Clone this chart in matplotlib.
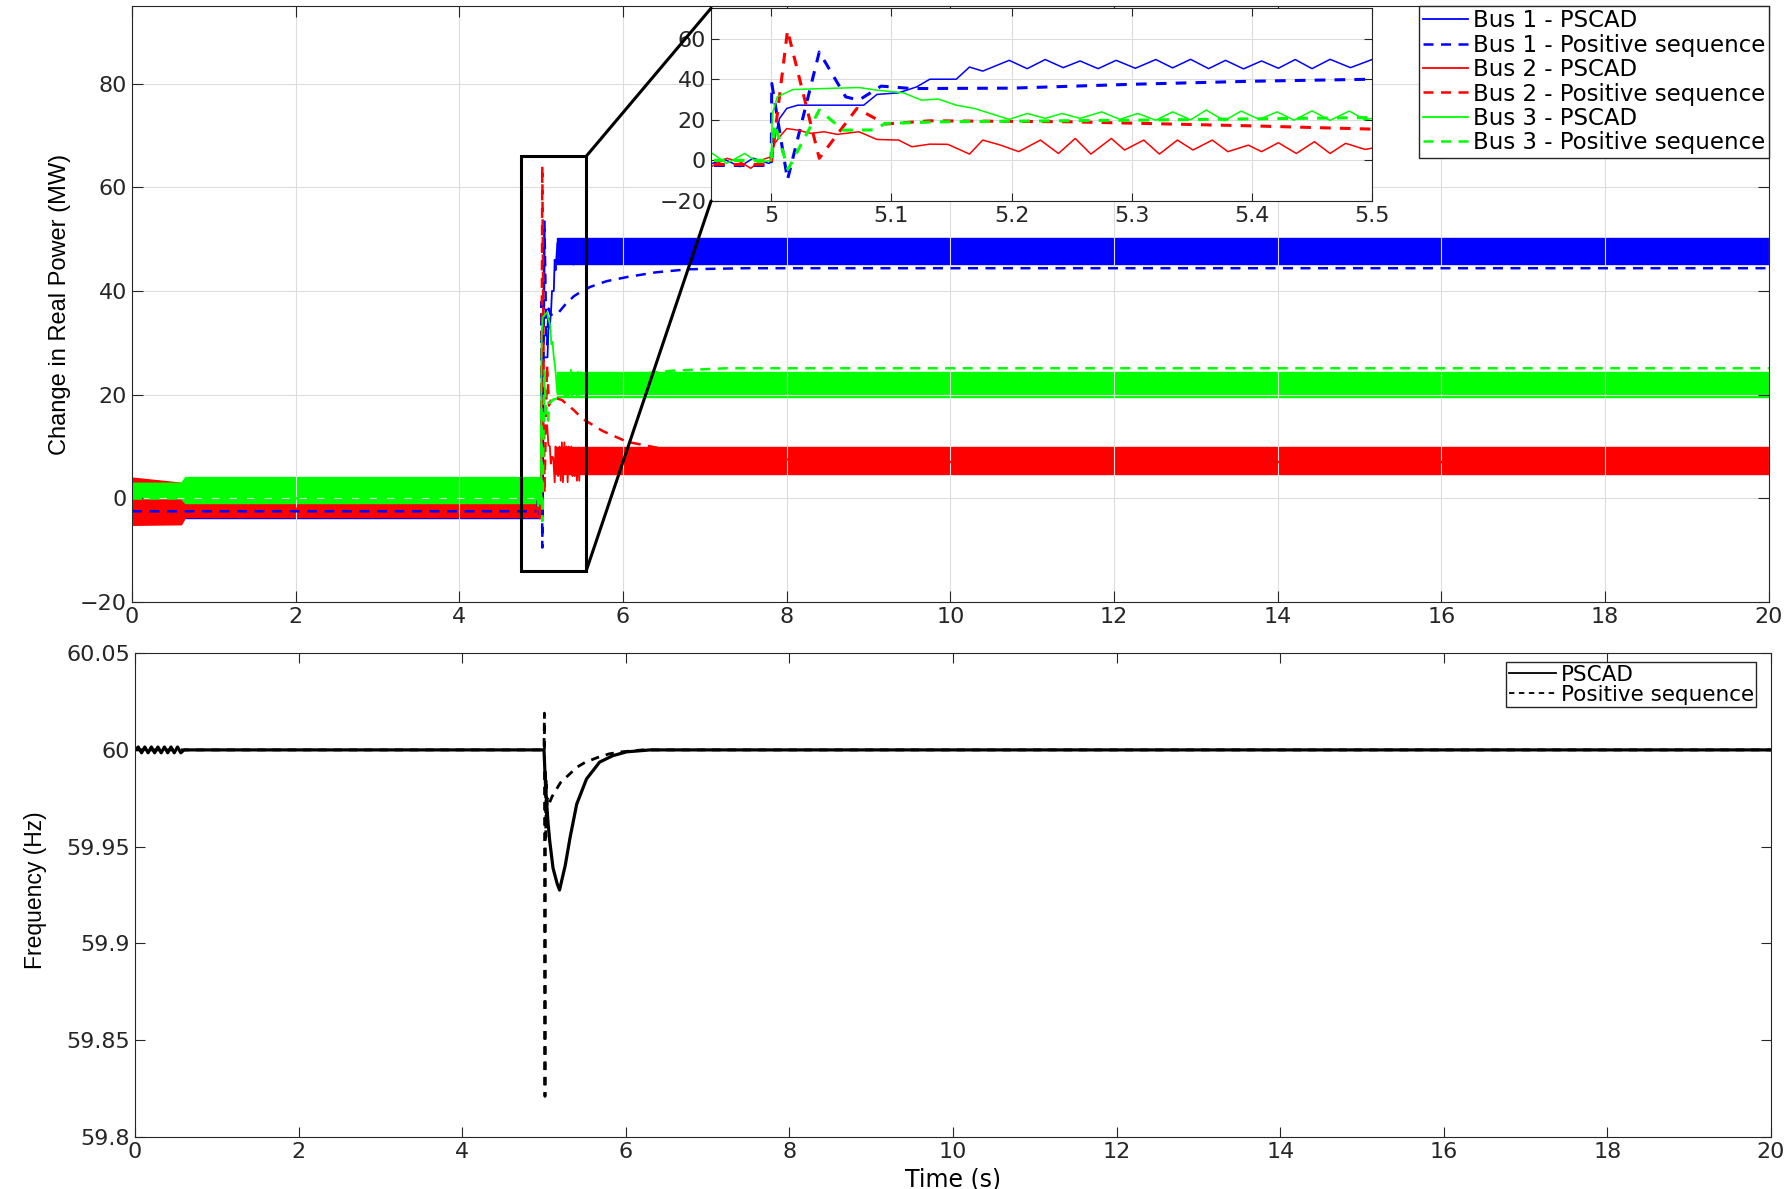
import matplotlib.pyplot as plt
import numpy as np
from matplotlib.patches import Rectangle, ConnectionPatch
from matplotlib.ticker import FormatStrFormatter, MultipleLocator

plt.rcParams['font.family'] = ['DejaVu Sans']
plt.rcParams['axes.edgecolor'] = '#262626'
plt.rcParams['xtick.color'] = '#262626'
plt.rcParams['ytick.color'] = '#262626'

# PSCAD real power change around the disturbance (s, MW)
t_bus1 = [4.951, 4.961, 4.974, 4.985, 4.998, 5.000, 5.003, 5.007, 5.013, 5.022,
          5.044, 5.077, 5.088, 5.106, 5.121, 5.132, 5.154, 5.165, 5.176,
          5.198, 5.213, 5.228, 5.243, 5.257, 5.272, 5.287, 5.303, 5.320, 5.334,
          5.349, 5.364, 5.378, 5.393, 5.408, 5.422, 5.436, 5.450, 5.465, 5.482, 5.500]
p_bus1 = [-1.5, 0.5, -3.1, 1.1, -1.5, -0.8, 11.6, 20.7, 25.6, 27.2,
          27.2, 27.2, 32.5, 33.3, 36.2, 40.0, 40.0, 46.0, 44.0,
          49.3, 45.2, 49.7, 45.7, 49.0, 45.2, 49.3, 45.4, 49.7, 45.6,
          49.8, 45.2, 49.3, 45.1, 49.0, 45.4, 49.7, 45.2, 49.8, 45.7, 49.7]

t_bus2 = [4.951, 4.963, 4.974, 4.983, 4.992, 5.000, 5.003, 5.007, 5.013, 5.022,
          5.033, 5.044, 5.055, 5.073, 5.088, 5.106, 5.117, 5.132, 5.147, 5.165,
          5.176, 5.191, 5.206, 5.224, 5.239, 5.253, 5.266, 5.283, 5.294, 5.310,
          5.323, 5.338, 5.351, 5.367, 5.380, 5.397, 5.408, 5.422, 5.437, 5.452,
          5.465, 5.478, 5.494, 5.500]
p_bus2 = [-2.8, 1.0, -0.7, -3.9, 0.2, 1.8, 8.4, 11.6, 15.7, 14.9,
          13.3, 14.1, 12.8, 14.1, 10.3, 10.0, 6.7, 8.0, 7.9, 3.1,
          10.0, 7.5, 4.3, 10.0, 3.4, 10.8, 3.1, 10.8, 5.1, 10.0,
          3.1, 10.0, 5.1, 10.0, 4.3, 7.5, 4.3, 8.7, 3.4, 9.2,
          3.4, 8.4, 5.4, 6.0]

t_bus3 = [4.951, 4.963, 4.978, 4.989, 5.000, 5.001, 5.005, 5.018, 5.044, 5.073,
          5.088, 5.110, 5.125, 5.139, 5.154, 5.169, 5.198, 5.213, 5.228, 5.242,
          5.257, 5.275, 5.290, 5.305, 5.320, 5.334, 5.349, 5.362, 5.377, 5.391,
          5.406, 5.421, 5.435, 5.450, 5.465, 5.481, 5.494, 5.500]
p_bus3 = [3.4, -1.5, 3.4, -1.1, 0.0, 23.0, 31.3, 34.9, 35.4, 35.9,
          34.6, 33.3, 29.7, 30.2, 27.2, 25.6, 20.2, 23.1, 20.7, 23.1,
          20.7, 23.9, 20.2, 23.1, 19.8, 23.9, 20.0, 24.8, 19.5, 24.3,
          20.2, 23.9, 19.8, 24.4, 19.7, 24.3, 20.0, 20.7]

# PSCAD ripple bands (min / max of the fast oscillation)
t_pre = [0.0, 0.6, 0.65, 5.0]
lo_pre1 = [-3.8, -3.8, -3.8, -3.8]
hi_pre1 = [-1.0, -1.0, -1.5, -1.5]
lo_pre2 = [-5.1, -5.0, -3.6, -3.6]
hi_pre2 = [4.0, 3.0, -0.3, -0.3]
lo_pre3 = [0.0, 0.0, -0.9, -0.9]
hi_pre3 = [3.0, 3.0, 4.1, 4.1]

t_post1 = [5.19, 20.0]
lo_post1 = [45.3, 45.3]
hi_post1 = [50.3, 50.3]
t_post2 = [5.17, 20.0]
lo_post2 = [4.6, 4.6]
hi_post2 = [9.9, 9.9]
t_post3 = [5.19, 20.0]
lo_post3 = [19.6, 19.6]
hi_post3 = [24.4, 24.4]

# positive sequence model
t_ps1 = [0, 5.0, 5.0005, 5.0136, 5.040, 5.062, 5.073, 5.0915, 5.117, 5.2,
         5.3, 5.4, 5.5, 5.6, 5.8, 6.05, 6.4, 6.8, 7.5, 20]
p_ps1 = [-2.5, -2.5, 37.9, -9.5, 53.4, 31.3, 29.7, 36.6, 35.4, 35.6,
         37.5, 39.0, 40.0, 40.8, 41.9, 42.7, 43.6, 44.2, 44.4, 44.4]
t_ps2 = [0, 5.0, 5.0136, 5.040, 5.0713, 5.095, 5.132, 5.25, 5.4, 5.5,
         5.75, 6.05, 6.57, 7.2, 8.0, 9.5, 20]
p_ps2 = [-2.0, -2.0, 64.1, 1.0, 25.6, 17.9, 19.5, 19.0, 17.0, 15.4,
         13.0, 10.9, 9.3, 8.2, 7.5, 7.0, 7.0]
t_ps3 = [0, 5.0, 5.003, 5.014, 5.040, 5.060, 5.085, 5.095, 5.14, 5.3,
         5.5, 5.8, 6.1, 6.57, 7.27, 20]
p_ps3 = [0.0, 0.0, 18.0, -4.4, 24.8, 14.9, 15.0, 18.2, 19.0, 19.8,
         21.1, 22.8, 23.8, 24.6, 25.1, 25.1]

# system frequency (s, Hz)
t_f_pscad = [0, 0.04, 0.08, 0.12, 0.16, 0.20, 0.24, 0.28, 0.32, 0.36, 0.40,
             0.44, 0.48, 0.52, 0.56, 0.60, 5.0, 5.02, 5.05, 5.07, 5.11, 5.16,
             5.19, 5.26, 5.32, 5.40, 5.52, 5.68, 5.84, 6.01, 6.3, 20]
f_pscad = [60.0, 60.0015, 59.9985, 60.0015, 59.9985, 60.0015, 59.9985, 60.0015,
           59.9985, 60.0015, 59.9985, 60.0015, 59.9985, 60.0015, 59.9985, 60.0,
           60.0, 59.98, 59.962, 59.953, 59.939, 59.931, 59.9276, 59.9404, 59.955,
           59.972, 59.985, 59.9937, 59.997, 59.999, 60.0, 60.0]
t_f_ps = [0, 5.0, 5.005, 5.012, 5.018, 5.022, 5.027, 5.032, 5.04, 5.06, 5.10,
          5.2, 5.3, 5.4, 5.5, 5.65, 5.8, 5.95, 6.2, 20]
f_ps = [60.0, 60.0, 60.019, 59.821, 59.99, 59.955, 59.985, 59.962, 59.975,
        59.972, 59.976, 59.983, 59.987, 59.991, 59.9935, 59.996, 59.998,
        59.999, 60.0, 60.0]

labels = ['Bus 1 - PSCAD', 'Bus 1 - Positive sequence',
          'Bus 2 - PSCAD', 'Bus 2 - Positive sequence',
          'Bus 3 - PSCAD', 'Bus 3 - Positive sequence']
colors = ['#0000ff', '#ff0000', '#00ff00']
label_font = ['Liberation Sans', 'DejaVu Sans']

fig = plt.figure(figsize=(17.88, 11.89), dpi=100)
ax = fig.add_axes([0.0738, 0.4937, 0.9155, 0.5013])
ax2 = fig.add_axes([0.0755, 0.0437, 0.915, 0.407])
axin = fig.add_axes([0.3977, 0.8310, 0.3697, 0.1621])

pscad = [(t_bus1, p_bus1), (t_bus2, p_bus2), (t_bus3, p_bus3)]
pre = [(lo_pre1, hi_pre1), (lo_pre2, hi_pre2), (lo_pre3, hi_pre3)]
post = [(t_post1, lo_post1, hi_post1), (t_post2, lo_post2, hi_post2),
        (t_post3, lo_post3, hi_post3)]
ps = [(t_ps1, p_ps1), (t_ps2, p_ps2), (t_ps3, p_ps3)]

handles = []
for i in range(3):
    c = colors[i]
    ax.fill_between(t_pre, pre[i][0], pre[i][1], color=c, lw=1)
    h1, = ax.plot(pscad[i][0], pscad[i][1], color=c, lw=1.3)
    tp, lo, hi = post[i]
    ax.fill_between(tp, lo, hi, color=c, lw=1)
    h2, = ax.plot(ps[i][0], ps[i][1], color=c, lw=1.8, ls=(0, (4, 3)))
    handles += [h1, h2]

    axin.plot(pscad[i][0], pscad[i][1], color=c, lw=1.1)
    axin.plot(ps[i][0], ps[i][1], color=c, lw=2.2, ls=(0, (3.5, 3)))

ax.set_xlim(0, 20)
ax.set_ylim(-20, 95)
ax.xaxis.set_major_locator(MultipleLocator(2))
ax.set_yticks([-20, 0, 20, 40, 60, 80])
ax.grid(True, color='#dcdcdc', lw=0.8)
ax.tick_params(direction='in', top=True, right=True, length=8, labelsize=16)
ax.set_ylabel('Change in Real Power (MW)', fontsize=17, family=label_font)
ax.yaxis.set_label_coords(-0.037, 0.5)

leg = ax.legend(handles, labels, loc='upper right', bbox_to_anchor=(1, 1),
                borderaxespad=0, fontsize=16.5, labelspacing=0.06,
                handlelength=2.0, handletextpad=0.2, borderpad=0.15,
                fancybox=False, framealpha=1, edgecolor='#262626')
leg.get_frame().set_linewidth(1.0)

# zoom box on the disturbance
ax.add_patch(Rectangle((4.75, -14), 0.8, 80, fill=False, ec='black', lw=2.2,
                       zorder=6))

axin.set_xlim(4.95, 5.5)
axin.set_ylim(-20, 75)
axin.set_xticks([5.0, 5.1, 5.2, 5.3, 5.4, 5.5])
axin.set_yticks([-20, 0, 20, 40, 60])
axin.xaxis.set_major_formatter(FormatStrFormatter('%g'))
axin.grid(True, color='#dcdcdc', lw=0.8)
axin.tick_params(direction='in', top=True, right=True, length=6, labelsize=16)
axin.set_facecolor('white')

for xy_box, xy_in in [((5.55, 66), (0, 1)), ((5.55, -14), (0, 0))]:
    con = ConnectionPatch(xyA=xy_box, coordsA=ax.transData,
                          xyB=xy_in, coordsB=axin.transAxes,
                          color='black', lw=2.2)
    fig.add_artist(con)

ax2.plot(t_f_pscad, f_pscad, color='black', lw=2.3, label='PSCAD')
ax2.plot(t_f_ps, f_ps, color='black', lw=2.0, ls=(0, (3, 2.5)),
         label='Positive sequence')
ax2.set_xlim(0, 20)
ax2.set_ylim(59.8, 60.05)
ax2.xaxis.set_major_locator(MultipleLocator(2))
ax2.set_yticks([59.8, 59.85, 59.9, 59.95, 60.0, 60.05])
ax2.yaxis.set_major_formatter(FormatStrFormatter('%g'))
ax2.tick_params(direction='in', top=True, right=True, length=7, labelsize=16)
ax2.set_ylabel('Frequency (Hz)', fontsize=16.5, family=label_font)
ax2.yaxis.set_label_coords(-0.054, 0.51)
ax2.set_xlabel('Time (s)', fontsize=17)
ax2.xaxis.set_label_coords(0.5, -0.062)
leg2 = ax2.legend(loc='upper right', bbox_to_anchor=(0.991, 0.981),
                  borderaxespad=0, fontsize=15.5, labelspacing=0.0,
                  handlelength=2.2, handletextpad=0.2, borderpad=0.12,
                  fancybox=False, framealpha=1, edgecolor='#262626')
for ln in leg2.get_lines():
    ln.set_linewidth(1.3)

fig.savefig('out.png', dpi=100)
